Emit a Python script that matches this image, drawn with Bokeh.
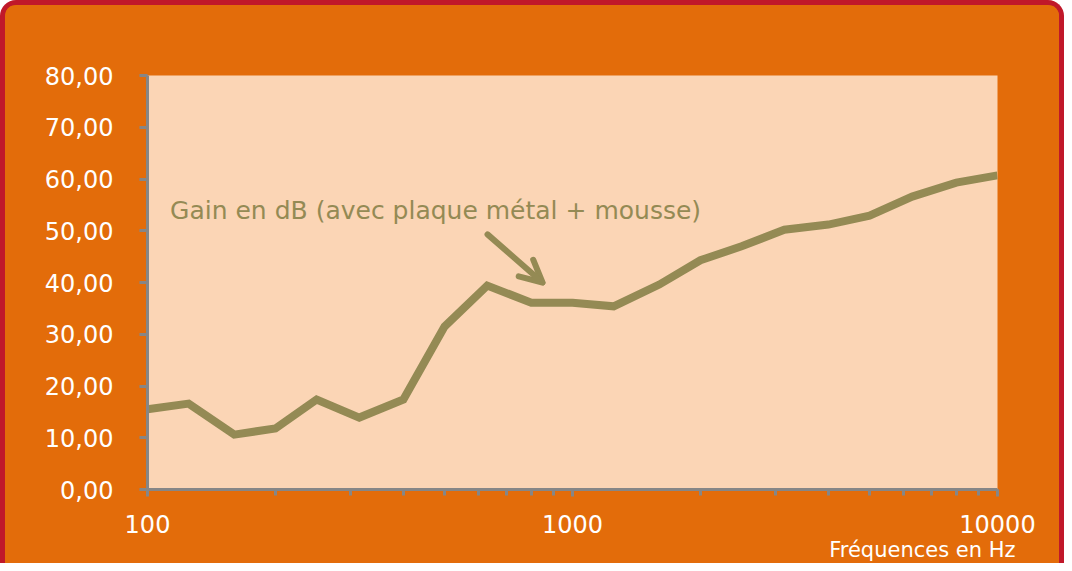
from bokeh.plotting import figure
from bokeh.models import (Range1d, FixedTicker, LogTicker, CustomJSTickFormatter,
                          Label, Arrow, OpenHead, Title)
from bokeh.embed import file_html
from bokeh.resources import INLINE

# ---- data ----
freqs = [100, 125, 160, 200, 250, 315, 400, 500, 630, 800, 1000, 1250, 1600,
         2000, 2500, 3150, 4000, 5000, 6300, 8000, 10000]
gain_db = [15.5, 16.6, 10.6, 11.8, 17.4, 13.9, 17.4, 31.5, 39.4, 36.1, 36.1,
           35.4, 39.6, 44.3, 47.0, 50.2, 51.2, 52.9, 56.6, 59.3, 60.7]
y_ticks = [0, 10, 20, 30, 40, 50, 60, 70, 80]
series_label = "Gain en dB (avec plaque métal + mousse)"
x_title = "Fréquences en Hz"

ORANGE = "#E36C0A"
PEACH = "#FBD5B5"
OLIVE = "#948A54"
GRAY = "#868686"
RED = "#C0182A"
FONT = "DejaVu Sans"

p = figure(width=1064, height=563, x_axis_type="log",
           x_range=Range1d(100, 10000), y_range=Range1d(0, 80),
           output_backend="svg", toolbar_location=None,
           min_border_left=142, min_border_right=72,
           min_border_top=70, min_border_bottom=79)
p.styles = {"border": f"5px solid {RED}", "border-bottom-width": "0px",
            "box-sizing": "border-box",
            "border-radius": "16px 16px 0 0", "overflow": "hidden",
            "background-color": ORANGE}
p.border_fill_color = ORANGE
p.background_fill_color = PEACH
p.outline_line_color = None
p.grid.visible = False

p.line(freqs, gain_db, line_color=OLIVE, line_width=8, line_join="miter")

# axes
for ax in (p.xaxis[0], p.yaxis[0]):
    ax.axis_line_color = GRAY
    ax.axis_line_width = 3
    ax.major_tick_line_color = GRAY
    ax.major_tick_line_width = 3
    ax.minor_tick_line_color = GRAY
    ax.minor_tick_line_width = 3
    ax.major_tick_in = 0
    ax.minor_tick_in = 0
    ax.major_label_text_color = "white"
    ax.major_label_text_font = FONT

p.yaxis.ticker = FixedTicker(ticks=y_ticks)
p.yaxis.major_tick_out = 8
p.yaxis.minor_tick_out = 0
p.yaxis.major_label_text_font_size = "24px"
p.yaxis.major_label_standoff = 26
p.yaxis.formatter = CustomJSTickFormatter(
    code="return tick.toFixed(2).replace('.', ',');")

p.xaxis.ticker = LogTicker(base=10, mantissas=[1], num_minor_ticks=10)
p.xaxis.major_tick_out = 7
p.xaxis.minor_tick_out = 6
p.xaxis.major_label_text_font_size = "24px"
p.xaxis.major_label_standoff = 18
p.xaxis.formatter = CustomJSTickFormatter(code="return tick.toFixed(0);")

# axis title (bottom right)
p.add_layout(Title(text=x_title, align="right", standoff=0, offset=-18,
                   text_color="white", text_font=FONT,
                   text_font_size="21px", text_font_style="normal"), "below")

# series annotation + arrow
p.add_layout(Label(x=113, y=54, text=series_label, text_align="left",
                   text_baseline="middle", text_color=OLIVE,
                   text_font=FONT, text_font_size="25px"))
p.add_layout(Arrow(x_start=631, y_start=49.3, x_end=850, y_end=40.0,
                   line_color=OLIVE, line_width=6, line_cap="round",
                   end=OpenHead(size=22, line_color=OLIVE, line_width=6,
                                line_cap="round", line_join="round")))

open("out.html", "w").write(file_html(p, INLINE))
